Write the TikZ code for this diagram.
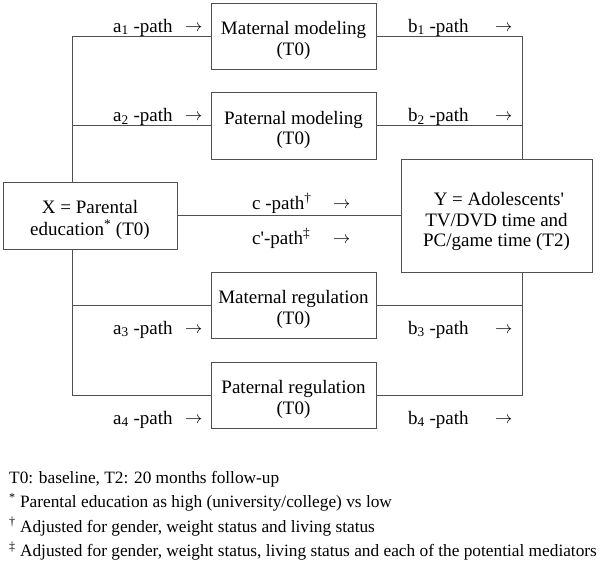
\documentclass[tikz,border=0pt]{standalone}
\usepackage{fontspec}
\setmainfont{Liberation Serif}
\definecolor{linec}{HTML}{505050}
\newcommand{\topfix}[1][22pt]{\rule{0pt}{#1}}
\newcommand{\arr}{\fontsize{18}{20}\selectfont$\rightarrow$}
\begin{document}
\begin{tikzpicture}[x=1pt,y=-1pt,
  box/.style={draw=linec, line width=1pt, fill=white, align=center, inner sep=0pt,
    font=\fontsize{19}{20.5}\selectfont},
  lab/.style={anchor=base west, inner sep=0pt, font=\fontsize{19}{21}\selectfont},
  arrlab/.style={anchor=base west, inner sep=0pt, yshift=1pt},
  foot/.style={anchor=base west, inner sep=0pt, font=\fontsize{17.3}{20}\selectfont},
  conn/.style={draw=linec, line width=1pt}]
\useasboundingbox (0,0) rectangle (600,566);
\coordinate (L) at (72,0);
\coordinate (R) at (522,0);
\node[box, minimum width=165pt, minimum height=66pt] (mm) at (293.5,36) {\topfix Maternal modeling\\(T0)};
\node[box, minimum width=165pt, minimum height=67pt] (pm) at (293.5,125.5) {\topfix Paternal modeling\\(T0)};
\node[box, minimum width=165pt, minimum height=66pt] (mr) at (293.5,305) {\topfix Maternal regulation\\(T0)};
\node[box, minimum width=165pt, minimum height=66pt] (pr) at (293.5,395) {\topfix Paternal regulation\\(T0)};
\node[box, minimum width=174pt, minimum height=67pt, font=\fontsize{19}{21.5}\selectfont] (X) at (90,215.5) {\topfix X = Parental\\education\textsuperscript{*} (T0)};
\node[box, minimum width=191pt, minimum height=113pt] (Y) at (496.5,215.5) {\topfix[26pt] Y = Adolescents\textquotesingle\\TV/DVD time and\\PC/game time (T2)};
% left side
\draw[conn] (mm.west) -- (mm.west -| L) -- (X.north -| L);
\draw[conn] (pm.west) -- (pm.west -| L);
\draw[conn] (X.south -| L) -- (pr.west -| L) -- (pr.west);
\draw[conn] (mr.west) -- (mr.west -| L);
% right side
\draw[conn] (mm.east) -- (mm.east -| R) -- (Y.north -| R);
\draw[conn] (pm.east) -- (pm.east -| R);
\draw[conn] (Y.south -| R) -- (pr.east -| R) -- (pr.east);
\draw[conn] (mr.east) -- (mr.east -| R);
% direct path
\draw[conn] (X.east) -- (Y.west);
% labels
\node[lab] (la1) at (113,32) {a\textsubscript{1} -path};
\node[arrlab] (ra1) at (185,32) {\arr};
\node[lab] (la2) at (113,121.5) {a\textsubscript{2} -path};
\node[arrlab] (ra2) at (185,121.5) {\arr};
\node[lab] (la3) at (113,334) {a\textsubscript{3} -path};
\node[arrlab] (ra3) at (185,334) {\arr};
\node[lab] (la4) at (113,424) {a\textsubscript{4} -path};
\node[arrlab] (ra4) at (185,424) {\arr};
\node[lab] (lb1) at (408,32) {b\textsubscript{1} -path};
\node[arrlab] (rb1) at (495,32) {\arr};
\node[lab] (lb2) at (408,121.5) {b\textsubscript{2} -path};
\node[arrlab] (rb2) at (495,121.5) {\arr};
\node[lab] (lb3) at (408,334) {b\textsubscript{3} -path};
\node[arrlab] (rb3) at (495,334) {\arr};
\node[lab] (lb4) at (408,424) {b\textsubscript{4} -path};
\node[arrlab] (rb4) at (495,424) {\arr};
\node[lab] (lc) at (252,209) {c -path\textsuperscript{†}};
\node[arrlab] (rc) at (333,209) {\arr};
\node[lab] (lc2) at (252,244) {c\textquotesingle-path\textsuperscript{‡}};
\node[arrlab] (rc2) at (333,244) {\arr};
% footnotes
\node[foot] (f1) at (9,483) {T0: baseline, T2: 20 months follow-up};
\node[foot] (f2) at (9,507.5) {\textsuperscript{*} Parental education as high (university/college) vs low};
\node[foot] (f3) at (9,532) {\textsuperscript{†} Adjusted for gender, weight status and living status};
\node[foot] (f4) at (9,556.5) {\textsuperscript{‡} Adjusted for gender, weight status, living status and each of the potential mediators};
\end{tikzpicture}
\end{document}
